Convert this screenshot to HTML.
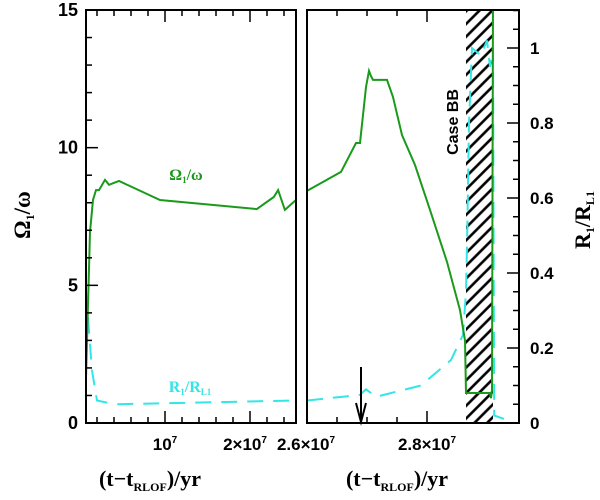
<!DOCTYPE html>
<html><head><meta charset="utf-8"><style>
body{margin:0;background:#fff;}
svg text{font-family:"Liberation Sans",sans-serif;font-weight:bold;}
</style></head><body>
<svg id="c" width="600" height="495" xmlns="http://www.w3.org/2000/svg">
<defs><pattern id="hatch" patternUnits="userSpaceOnUse" width="9" height="9" patternTransform="rotate(45)"><line x1="4.5" y1="0" x2="4.5" y2="9" stroke="#000" stroke-width="2.6"/></pattern></defs>
</svg>
<script>
// data (times in units of 1e7 yr)
const leftOmegaT=[0.07,0.118,0.153,0.188,0.224,0.294,0.341,0.459,0.941,2.08,2.28,2.33,2.41,2.54];
const leftOmegaV=[1.63,6.94,8.1,8.46,8.46,8.83,8.65,8.79,8.1,7.77,8.21,8.46,7.74,8.1];
const leftRT=[0.07,0.141,0.2,0.412,2.54];
const leftRV=[0.35,0.14,0.06,0.05,0.06];
const rightOmegaT=[2.6,2.6567,2.6817,2.6883,2.6983,2.7033,2.7067,2.71,2.7333,2.7433,2.7583,2.78,2.805,2.8333,2.855,2.8633,2.865,2.905,2.9067,2.9083,2.91];
const rightOmegaV=[8.43,9.12,10.17,10.17,12.2,12.79,12.6,12.46,12.46,11.84,10.46,9.37,7.74,5.85,4.1,3.0,1.09,1.09,0.9,1.2,15.5];
const rightRT=[2.6,2.6883,2.6983,2.715,2.79,2.84,2.86,2.865,2.867,2.87,2.875,2.89,2.9,2.905,2.91,2.912,2.93];
const rightRV=[0.06,0.075,0.09,0.07,0.1,0.168,0.235,0.35,0.5,0.8,1.0,0.98,1.02,0.95,1.0,0.02,0.01];
const caseBB=[2.865,2.91];
const arrowT=2.69;
const omegaTicks=[0,5,10,15];
const rTicks=[0,0.2,0.4,0.6,0.8,1];

const svg=document.getElementById('c');
const NS='http://www.w3.org/2000/svg';
function mk(tag,attrs,parent){const e=document.createElementNS(NS,tag);for(const k in attrs)e.setAttribute(k,attrs[k]);(parent||svg).appendChild(e);return e;}
const yTop=10,yBot=423;
const yO=v=>yBot-v*(yBot-yTop)/15;
const yR=v=>yBot-v*375;
const xL=t=>165+(t-1)*85;
const xRt=t=>427+(t-2.8)*600;
const PL={x0:86,x1:296},PR={x0:307,x1:519};

function clip(id,p){const c=mk('clipPath',{id:id});mk('rect',{x:p.x0,y:yTop,width:p.x1-p.x0,height:yBot-yTop},c);}
clip('cl',PL);clip('cr',PR);

const hb=mk('rect',{x:xRt(caseBB[0]),y:yTop,width:xRt(caseBB[1])-xRt(caseBB[0]),height:yBot-yTop,fill:'url(#hatch)'});



function line(T,V,xf,yf,col,dash,cid,name){
  const d=T.map((t,i)=>(i?'L':'M')+xf(t).toFixed(1)+','+yf(V[i]).toFixed(1)).join('');
  const p=mk('path',{d:d,fill:'none',stroke:col,'stroke-width':2,'stroke-dasharray':dash||'none','clip-path':'url(#'+cid+')'});
  
  
}
line(leftRT,leftRV,xL,yR,'#33e6e6','16,10','cl','r-ratio-line-left');
line(rightRT,rightRV,xRt,yR,'#33e6e6','16,10','cr','r-ratio-line-right');
line(leftOmegaT,leftOmegaV,xL,yO,'#1a9a1a','','cl','omega-line-left');
line(rightOmegaT,rightOmegaV,xRt,yO,'#1a9a1a','','cr','omega-line-right');

[PL,PR].forEach((p,i)=>{const f=mk('rect',{x:p.x0,y:yTop,width:p.x1-p.x0,height:yBot-yTop,fill:'none',stroke:'#000','stroke-width':2});

});

function tick(x1,y1,x2,y2){mk('line',{x1:x1,y1:y1,x2:x2,y2:y2,stroke:'#000','stroke-width':1.5});}
function txt(x,y,s,anchor,size,name,extra){const t=mk('text',Object.assign({x:x,y:y,'text-anchor':anchor,'font-size':size},extra||{}));t.innerHTML=s;


return t;}
const serif='font-family:"Liberation Serif",serif;font-weight:bold;';
for(let v=0;v<=15;v++){const y=yO(v),len=v%5?6:12;tick(PL.x0,y,PL.x0+len,y);}
omegaTicks.forEach(v=>txt(78,yO(v)+6,v,'end',18,'y-tick-label'));
for(let k=0;k<=22;k++){const v=k*0.05,y=yR(v);if(y<yTop)continue;const len=k%4?6:12;tick(PR.x1,y,PR.x1-len,y);}
rTicks.forEach(v=>txt(530,yR(v)+6,v,'start',17,'r-tick-label'));
for(let t=0.2;t<2.56;t+=0.2){const x=xL(t);if(x<=PL.x0)continue;const len=(Math.abs(t-1)<1e-6||Math.abs(t-2)<1e-6)?12:6;tick(x,yBot,x,yBot-len);tick(x,yTop,x,yTop+len);}
for(let t=2.65;t<2.82;t+=0.05){const x=xRt(t);if(x>=PR.x1)continue;const len=Math.abs(t-2.8)<1e-6?12:6;tick(x,yBot,x,yBot-len);tick(x,yTop,x,yTop+len);}
txt(xL(1),450,'10<tspan font-size="10" dy="-7">7</tspan>','middle',17,'x-tick-label');
txt(xL(2)-5,450,'2×10<tspan font-size="10" dy="-7">7</tspan>','middle',17,'x-tick-label');
txt(PR.x0-1,450,'2.6×10<tspan font-size="10" dy="-7">7</tspan>','middle',17,'x-tick-label');
txt(xRt(2.8),450,'2.8×10<tspan font-size="10" dy="-7">7</tspan>','middle',17,'x-tick-label');
const xtl='(t−t<tspan font-size="12" dy="5">RLOF</tspan><tspan dy="-5">)/yr</tspan>';
txt(150,486,xtl,'middle',22,'x-axis-title-left',{style:serif});
txt(397,486,xtl,'middle',22,'x-axis-title-right',{style:serif});
txt(0,0,'Ω<tspan font-size="12" dy="4">1</tspan><tspan dy="-4">/ω</tspan>','middle',23,'y-axis-title-left',{transform:'translate(30,215) rotate(-90)',style:serif});
txt(0,0,'R<tspan font-size="12" dy="4">1</tspan><tspan dy="-4">/R</tspan><tspan font-size="12" dy="4">L1</tspan>','middle',22,'y-axis-title-right',{transform:'translate(590,220) rotate(-90)',style:serif});
txt(186,180,'Ω<tspan font-size="9" dy="3">1</tspan><tspan dy="-3">/ω</tspan>','middle',16,'omega-series-label',{fill:'#1a9a1a',style:serif});
txt(190,392,'R<tspan font-size="9" dy="3">1</tspan><tspan dy="-3">/R</tspan><tspan font-size="9" dy="3">L1</tspan>','middle',16,'r-series-label',{fill:'#33e6e6',style:serif});
txt(0,0,'Case  BB','middle',16,'case-bb-label',{transform:'translate(458,122) rotate(-90)'});
const ax=xRt(arrowT);
const ar=mk('path',{d:`M${ax},367 L${ax},422 M${ax-5},403 L${ax},422 L${ax+5},403`,stroke:'#000','stroke-width':2,fill:'none'});


</script>
</body></html>
